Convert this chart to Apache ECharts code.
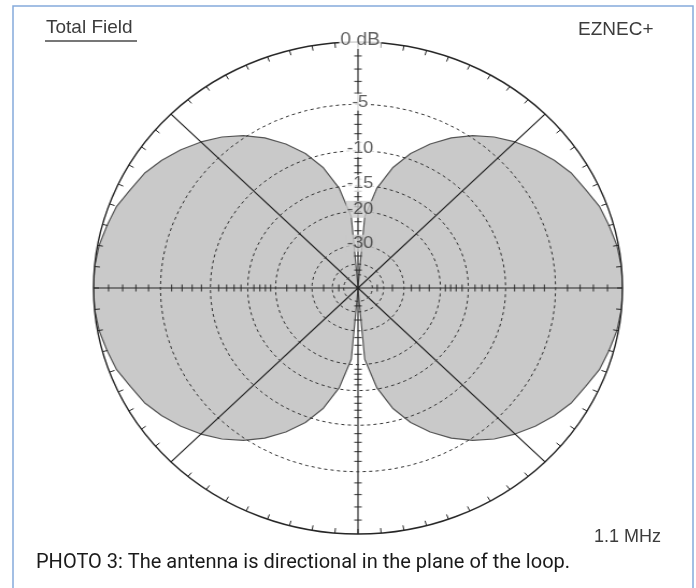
<!DOCTYPE html>
<html>
<head>
<meta charset="utf-8">
<title>Total Field</title>
<script src="https://cdn.jsdelivr.net/npm/echarts@6.0.0/dist/echarts.min.js"></script>
<style>
  html, body { margin: 0; padding: 0; background: #fff; overflow: hidden; }
  #frame, #plot { position: absolute; left: 0; top: 0; width: 696px; height: 588px; }
  /* the screenshot is a bit wider than tall, so stretch the plot layer */
  #plot { transform: scaleX(1.075); transform-origin: 358px 0; }
</style>
</head>
<body>
<div id="frame"></div>
<div id="plot"></div>
<script>
// azimuth, degrees (0 = up, clockwise)
const azimuths = [
  0, 5, 10, 15, 20, 25, 30, 35, 40, 45, 50, 55, 60, 65, 70, 75, 80, 85,
  90, 95, 100, 105, 110, 115, 120, 125, 130, 135, 140, 145, 150, 155, 160, 165, 170, 175,
  180, 185, 190, 195, 200, 205, 210, 215, 220, 225, 230, 235, 240, 245, 250, 255, 260, 265,
  270, 275, 280, 285, 290, 295, 300, 305, 310, 315, 320, 325, 330, 335, 340, 345, 350, 355
]
// total field, dB below max
const gainDb = [
  -99, -21.2, -15.2, -11.7, -9.3, -7.5, -6.0, -4.8, -3.8, -3.0, -2.3, -1.7, -1.2, -0.9, -0.5, -0.3, -0.1, 0.0,
  0.0, 0.0, -0.1, -0.3, -0.5, -0.9, -1.2, -1.7, -2.3, -3.0, -3.8, -4.8, -6.0, -7.5, -9.3, -11.7, -15.2, -21.2,
  -99, -21.2, -15.2, -11.7, -9.3, -7.5, -6.0, -4.8, -3.8, -3.0, -2.3, -1.7, -1.2, -0.9, -0.5, -0.3, -0.1, 0.0,
  0.0, 0.0, -0.1, -0.3, -0.5, -0.9, -1.2, -1.7, -2.3, -3.0, -3.8, -4.8, -6.0, -7.5, -9.3, -11.7, -15.2, -21.2
]
const ringDb = [-5, -10, -15, -20, -30, -40, -50]
const ringLabels = ['-5', '-10', '-15', '-20', '-30', '', '']
const axisTickDb = [-1, -2, -3, -4, -6, -7, -8, -9, -11, -12, -13, -14, -16, -17, -18, -19, -22.5, -25, -27.5, -35, -45]

// ARRL log scale: every 2 dB down is 0.89 of the radius
const arrl = db => Math.pow(0.89, -db / 2)

const ink = '#262626'
const fillGray = '#c9c9c9'
const font = '"Liberation Sans", Arial, sans-serif'

// ---- frame, titles, caption ----
const frame = echarts.init(document.getElementById('frame'))
frame.setOption({
  backgroundColor: '#fff',
  graphic: [
    { type: 'rect', shape: { x: 13, y: 6, width: 680, height: 640 },
      style: { fill: 'none', stroke: '#85aadb', lineWidth: 1.5 } },
    { type: 'text', x: 46, y: 28,
      style: { text: 'Total Field', font: '19px ' + font, fill: '#3c3c3c', verticalAlign: 'middle' } },
    { type: 'line', shape: { x1: 45, y1: 41, x2: 137, y2: 41 },
      style: { stroke: '#4a4a4a', lineWidth: 1.5 } },
    { type: 'text', x: 578, y: 30,
      style: { text: 'EZNEC+', font: '19px ' + font, fill: '#3c3c3c', verticalAlign: 'middle' } },
    { type: 'text', x: 661, y: 537,
      style: { text: '1.1 MHz', font: '18px ' + font, fill: '#3c3c3c', align: 'right', verticalAlign: 'middle' } },
    { type: 'text', x: 36, y: 563,
      style: { text: 'PHOTO 3: The antenna is directional in the plane of the loop.',
        font: '20px Roboto, "Noto Sans", sans-serif', fill: '#1a1a1a', verticalAlign: 'middle' } }
  ]
})

// ---- polar plot ----
const loop = azimuths.concat(360)
const lobe = loop.map((az, i) => [arrl(gainDb[i % gainDb.length]), az])

const ringSeries = ringDb.map(db => ({
  type: 'line',
  coordinateSystem: 'polar',
  data: loop.map(az => [arrl(db), az]),
  symbol: 'none',
  silent: true,
  z: 4,
  lineStyle: { color: '#333', width: 1, type: [3, 3] }
}))

const hTicks = []
const vTicks = []
axisTickDb.forEach(db => {
  hTicks.push([arrl(db), 0], [arrl(db), 180])
  vTicks.push([arrl(db), 90], [arrl(db), 270])
})

const labelData = [{ value: [1, 0], name: '0 dB', bg: '#fff', size: 18 }].concat(
  ringDb.map((db, i) => ({ value: [arrl(db), 0], name: ringLabels[i], bg: db >= -15 ? '#fff' : fillGray, size: 17 }))
).filter(d => d.name).map(d => ({
  value: d.value,
  name: d.name,
  label: { backgroundColor: d.bg, fontSize: d.size }
}))

const plot = echarts.init(document.getElementById('plot'))
plot.setOption({
  animation: false,
  polar: { center: [358, 288], radius: 246 },
  angleAxis: {
    type: 'value',
    min: 0,
    max: 360,
    interval: 45,
    startAngle: 90,
    clockwise: true,
    z: 3,
    axisLine: { lineStyle: { color: ink, width: 1.4 } },
    axisTick: { show: true, inside: true, length: 5, lineStyle: { color: ink } },
    minorTick: { show: true, splitNumber: 9, length: 5, lineStyle: { color: ink } },
    axisLabel: { show: false },
    splitLine: { show: true, lineStyle: { color: ink, width: 1.2 } }
  },
  radiusAxis: {
    type: 'value',
    min: 0,
    max: 1,
    axisLine: { show: false },
    axisTick: { show: false },
    axisLabel: { show: false },
    splitLine: { show: false }
  },
  series: [
    {
      type: 'line',
      coordinateSystem: 'polar',
      data: lobe,
      symbol: 'none',
      z: 1,
      lineStyle: { color: '#555', width: 1.2 },
      areaStyle: { color: fillGray, opacity: 1 }
    },
    ...ringSeries,
    {
      type: 'scatter',
      coordinateSystem: 'polar',
      data: hTicks,
      symbol: 'rect',
      symbolSize: [7, 1.2],
      z: 4,
      silent: true,
      itemStyle: { color: ink }
    },
    {
      type: 'scatter',
      coordinateSystem: 'polar',
      data: vTicks,
      symbol: 'rect',
      symbolSize: [1.2, 7],
      z: 4,
      silent: true,
      itemStyle: { color: ink }
    },
    {
      type: 'scatter',
      coordinateSystem: 'polar',
      data: labelData,
      symbolSize: 1,
      z: 5,
      silent: true,
      itemStyle: { color: 'rgba(0,0,0,0)' },
      label: {
        show: true,
        position: 'inside',
        offset: [2, -2],
        formatter: p => p.name,
        color: '#383838',
        fontFamily: font,
        padding: [0, 1]
      }
    }
  ]
})
</script>
</body>
</html>
